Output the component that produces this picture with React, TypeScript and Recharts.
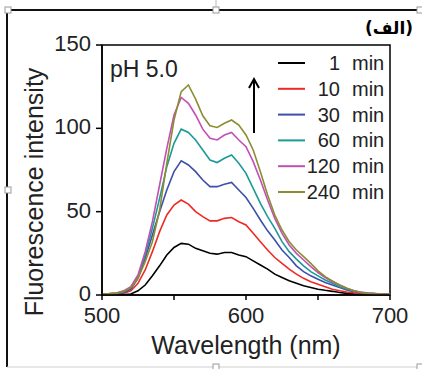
import React from 'react';
import { LineChart, Line, XAxis, YAxis, ReferenceArea } from 'recharts';

const wavelengths = [500,505,510,515,520,525,530,535,540,545,550,555,560,565,570,575,580,585,590,595,600,605,610,615,620,625,630,635,640,645,650,655,660,665,670,675,680,685,690,695,700];

const min1 = [0.3,0.2,0.3,0.2,0.6,2.5,6,11.5,17.5,24,28.5,31,30.5,28,26.5,25,24.5,25.5,25.5,24,23,20.5,18,15.5,12.5,10.5,8.5,7,5.5,4.5,3.5,2.8,2.2,1.5,1,0.7,0.5,0.4,0.3,0.3,0.2];
const min10 = [0.5,0.5,0.6,1,2.5,7,15,26,38,48,54,57,54.5,50,47,44.5,44.5,46,46.5,44,42,37,32,27,22.5,19,15.5,12.5,10,8,6.5,5,3.5,2.5,1.8,1.2,0.8,0.6,0.5,0.4,0.3];
const min30 = [0.5,0.6,0.8,1.5,3.5,10,22,36,50,63,74,80.5,78,74,69,65,65,66.5,67.5,63,58.5,52,45,38.5,33,27,22.5,17.5,14,11.5,9.5,7.5,6,4.5,3,2,1.2,0.9,0.7,0.5,0.4];
const min60 = [0.6,0.7,1,2,4.5,11,24,40,58,77,91,99.5,97.5,93,87,81,79.5,82,84,79,73,64,55,47,40,32,26,21.5,17.5,14,11.5,9,7,5,3.5,2.4,1.5,1.1,0.8,0.6,0.4];
const min120 = [0.7,0.8,1.2,2.5,5,12,26,44,66,88,108,118.5,115,108,99.5,94,93,96,97.5,93,89,80,69,57,46,37,30,25,21,17,13.5,10.5,8,6,4,2.6,1.7,1.2,0.9,0.6,0.5];
const min240 = [0.7,0.8,1.1,2.2,4.5,10,20,32,51,79,105,122,126,117.5,107.5,101.5,100.5,103,105,102,96,87,74,60,48,39,32,27,23,19,14.5,11,8.5,6,4,2.5,1.5,1,0.7,0.5,0.4];

const seriesLabels = ['1', '10', '30', '60', '120', '240'];
const seriesColors = ['#000000', '#ee2a24', '#3d4fa8', '#1c9a96', '#c24fb4', '#8c8c32'];
const allSeries = [min1, min10, min30, min60, min120, min240];

const xTicks = [500, 550, 600, 650, 700];
const xLabeledTicks = [500, 600, 700];
const yTicks = [0, 50, 100, 150];

const data = wavelengths.map((w, i) => {
  const row: Record<string, number> = { wl: w };
  allSeries.forEach((s, k) => {
    row['s' + k] = s[i];
  });
  return row;
});

const FONT = '"Liberation Sans", Arial, sans-serif';

const XTick = (props: any) => {
  const { x, y, payload } = props;
  const major = xLabeledTicks.includes(payload.value);
  return (
    <g>
      <line x1={x} y1={y} x2={x} y2={y + 5} stroke="#000" strokeWidth={1.5} />
      {major && (
        <text x={x} y={y + 28} textAnchor="middle" fontSize={22} fontFamily={FONT} fill="#222">
          {payload.value}
        </text>
      )}
    </g>
  );
};

const YTick = (props: any) => {
  const { x, y, payload } = props;
  return (
    <g>
      <line x1={x - 6} y1={y} x2={x} y2={y} stroke="#000" strokeWidth={1.5} />
      <text x={x - 11} y={y + 6} textAnchor="end" fontSize={22} fontFamily={FONT} fill="#222">
        {payload.value}
      </text>
    </g>
  );
};

const handles = [
  [8, 10], [216, 10], [420, 10], [8, 190], [216, 367], [420, 367],
];

export default function App() {
  return (
    <div style={{ position: 'absolute', left: 0, top: 0, width: 422, height: 369, background: '#fff' }}>
      <LineChart
        width={422}
        height={369}
        data={data}
        margin={{ top: 45, right: 32, bottom: 0, left: 0 }}
      >
        <XAxis
          dataKey="wl"
          type="number"
          domain={[500, 700]}
          ticks={xTicks}
          interval={0}
          tickSize={0}
          tickMargin={0}
          tick={<XTick />}
          height={74}
          axisLine={{ stroke: '#000', strokeWidth: 1.5 }}
          allowDataOverflow
        />
        <YAxis
          type="number"
          domain={[0, 150]}
          ticks={yTicks}
          interval={0}
          tickSize={0}
          tickMargin={0}
          tick={<YTick />}
          width={102}
          axisLine={{ stroke: '#000', strokeWidth: 1.5 }}
          allowDataOverflow
        />
        <ReferenceArea x1={500} x2={700} y1={0} y2={150} fill="none" stroke="#000" strokeWidth={1.5} />
        {allSeries.map((_, k) => (
          <Line
            key={k}
            dataKey={'s' + k}
            stroke={seriesColors[k]}
            strokeWidth={1.6}
            dot={false}
            isAnimationActive={false}
            type="linear"
          />
        ))}
      </LineChart>
      <svg
        width={422}
        height={369}
        style={{ position: 'absolute', left: 0, top: 0, pointerEvents: 'none' }}
      >
        <line x1={7} y1={10} x2={422} y2={10} stroke="#111" strokeWidth={2} />
        <line x1={7} y1={10} x2={7} y2={367} stroke="#111" strokeWidth={2} />
        <line x1={7} y1={367} x2={422} y2={367} stroke="#cfcfcf" strokeWidth={1} />
        <line x1={216} y1={0} x2={216} y2={7} stroke="#bbb" strokeWidth={1} />
        {handles.map(([hx, hy], i) => (
          <rect key={i} x={hx - 3} y={hy - 3} width={6} height={6} fill="#fff" stroke="#999" strokeWidth={1} />
        ))}
        <text x={389} y={34} textAnchor="middle" fontSize={17} fontWeight="bold" fontFamily='"DejaVu Sans", sans-serif' fill="#000">
          (الف)
        </text>
        <text x={110} y={77} fontSize={23} fontFamily={FONT} fill="#222">pH 5.0</text>
        <line x1={254} y1={133} x2={254} y2={80} stroke="#000" strokeWidth={2} />
        <polyline points="249,88 254,79 259,88" fill="none" stroke="#000" strokeWidth={2} />
        {seriesLabels.map((lab, i) => {
          const ry = 63 + i * 25.8;
          return (
            <g key={i}>
              <line x1={278} y1={ry} x2={305} y2={ry} stroke={seriesColors[i]} strokeWidth={2} />
              <text x={340} y={ry + 7} textAnchor="end" fontSize={20} fontFamily={FONT} fill="#222">{lab}</text>
              <text x={352} y={ry + 7} fontSize={20} fontFamily={FONT} fill="#222">min</text>
            </g>
          );
        })}
        <text x={246} y={354} textAnchor="middle" fontSize={25} fontFamily={FONT} fill="#222">Wavelength (nm)</text>
        <text transform="translate(43,192) rotate(-90)" textAnchor="middle" fontSize={25} fontFamily={FONT} fill="#222">
          Fluorescence intensity
        </text>
      </svg>
    </div>
  );
}
